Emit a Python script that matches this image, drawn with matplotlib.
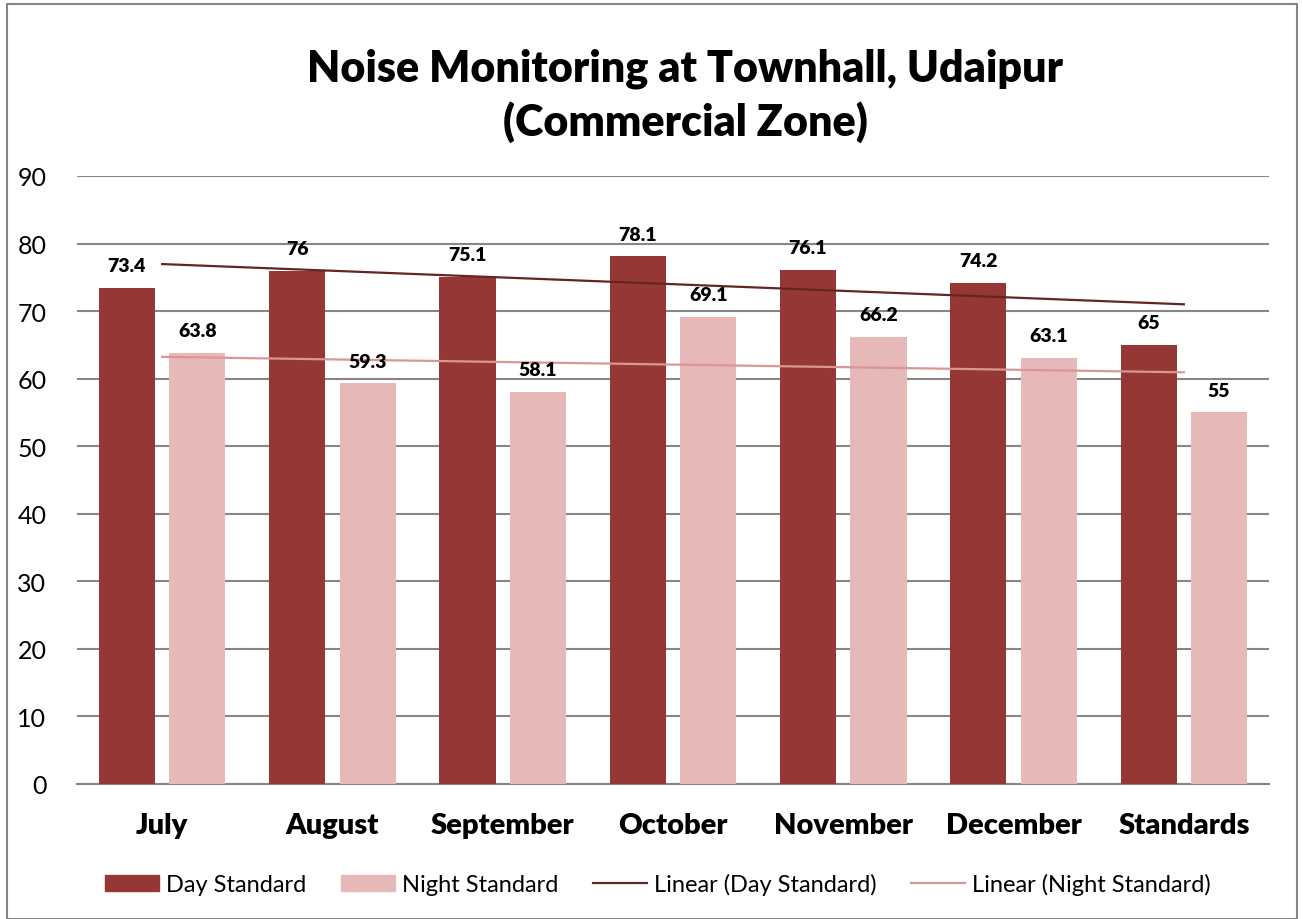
import numpy as np
import matplotlib
matplotlib.use("Agg")
import matplotlib.pyplot as plt
from matplotlib.patches import Rectangle, Patch
from matplotlib.lines import Line2D

plt.rcParams['font.family'] = ['Lato', 'DejaVu Sans']

categories = ["July", "August", "September", "October", "November", "December", "Standards"]
day_values = [73.4, 76, 75.1, 78.1, 76.1, 74.2, 65]
night_values = [63.8, 59.3, 58.1, 69.1, 66.2, 63.1, 55]
day_labels = ["73.4", "76", "75.1", "78.1", "76.1", "74.2", "65"]
night_labels = ["63.8", "59.3", "58.1", "69.1", "66.2", "63.1", "55"]
yticks = [0, 10, 20, 30, 40, 50, 60, 70, 80, 90]

day_color = "#953735"
night_color = "#E6B9B8"
day_trend_color = "#632523"
night_trend_color = "#D99694"
grid_color = "#868686"

fig = plt.figure(figsize=(13.03, 9.2), dpi=100)
ax = fig.add_axes([77/1303, 1-785/920, (1269-77)/1303, (785-177)/920])

x = np.arange(len(categories))
bw = 0.33
off = 0.207
ax.bar(x - off, day_values, bw, color=day_color, zorder=3)
ax.bar(x + off, night_values, bw, color=night_color, zorder=3)

# linear trend lines
for vals, col in [(day_values, day_trend_color), (night_values, night_trend_color)]:
    k, b = np.polyfit(x, vals, 1)
    ax.plot([x[0], x[-1]], [k*x[0]+b, k*x[-1]+b], color=col, lw=1.6, zorder=4)

for xi, v, lab in zip(x, day_values, day_labels):
    ax.annotate(lab, (xi - off, v), xytext=(0, 10), textcoords='offset points',
                ha='center', va='bottom', fontsize=14, fontweight='heavy', zorder=5)
for xi, v, lab in zip(x, night_values, night_labels):
    ax.annotate(lab, (xi + off, v), xytext=(0, 10), textcoords='offset points',
                ha='center', va='bottom', fontsize=14, fontweight='heavy', zorder=5)

ax.set_xlim(-0.5, len(categories) - 0.5)
ax.set_ylim(0, 90)
ax.set_yticks(yticks)
ax.set_yticklabels([str(t) for t in yticks], fontsize=18)
ax.set_xticks(x)
ax.set_xticklabels(categories, fontsize=21, fontweight='heavy')
ax.tick_params(axis='y', length=0, pad=22)
ax.tick_params(axis='x', length=0, pad=20)
ax.yaxis.grid(True, color=grid_color, lw=1.5, zorder=0)
for s in ['left', 'right', 'top']:
    ax.spines[s].set_visible(False)
ax.spines['bottom'].set_color(grid_color)
ax.spines['bottom'].set_linewidth(1.5)

fig.text(0.526, 1-96/920, "Noise Monitoring at Townhall, Udaipur\n(Commercial Zone)",
         ha='center', va='center', fontsize=31, fontweight='heavy', linespacing=1.35)

handles = [Patch(color=day_color), Patch(color=night_color),
           Line2D([], [], color=day_trend_color, lw=1.6),
           Line2D([], [], color=night_trend_color, lw=1.6)]
labels = ["Day Standard", "Night Standard", "Linear (Day Standard)", "Linear (Night Standard)"]
fig.legend(handles, labels, loc='center', bbox_to_anchor=(0.505, 1-885/920), ncol=4,
           frameon=False, fontsize=17, handlelength=2.3, handleheight=0.7,
           handletextpad=0.3, columnspacing=1.45)

fig.patches.append(Rectangle((7/1303, 0), (1297-7)/1303, 1-5/920, transform=fig.transFigure,
                             fill=False, edgecolor=grid_color, lw=1.5))

fig.savefig("out.png", dpi=100)
